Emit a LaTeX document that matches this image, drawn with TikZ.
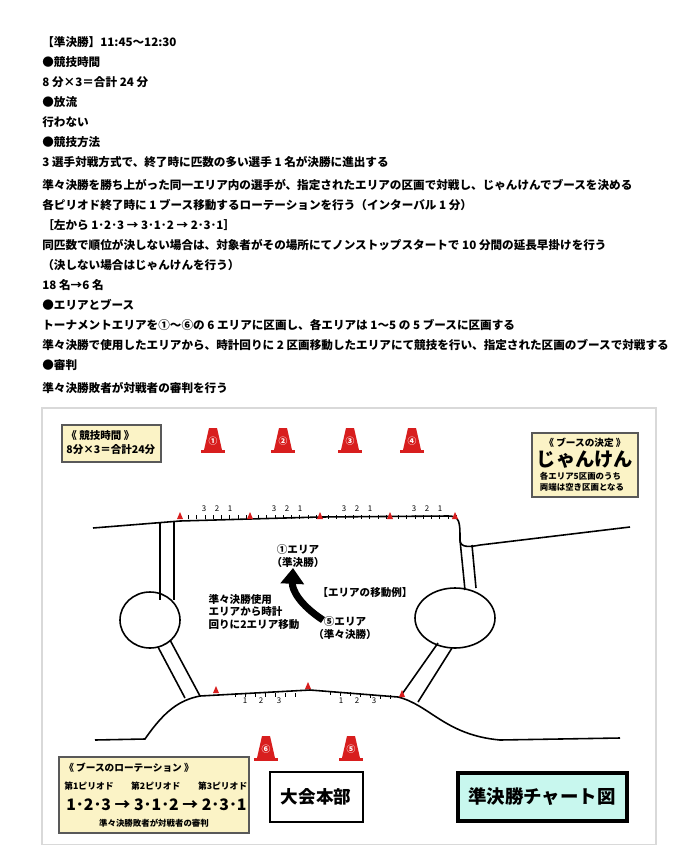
\documentclass[tikz,border=0pt]{standalone}
\usepackage{fontspec}
\setmainfont{Noto Sans CJK JP}
\usetikzlibrary{arrows.meta}
\definecolor{memo}{HTML}{FBF3C6}
\definecolor{chart}{HTML}{C8F7EE}
\definecolor{cone}{HTML}{D81E1E}
\tikzset{
  line/.style={anchor=west,inner sep=0pt,font=\fontsize{6.6}{8}\selectfont\bfseries},
  memobox/.style={draw=gray!70!black,fill=memo,line width=0.8pt},
  road/.style={line width=0.9pt},
  tick/.style={font=\fontsize{4.5}{5}\selectfont,inner sep=0pt}
}
\newcommand{\cone}[3]{%
  \fill[cone] (#1-9,#2+10) -- (#1-4,#2-12) -- (#1+4,#2-12) -- (#1+9,#2+10) -- cycle;
  \fill[cone] (#1-12,#2+10) rectangle (#1+12,#2+13);
  \node[text=white,font=\fontsize{5}{5}\selectfont\bfseries,inner sep=0pt] at (#1,#2+1) {#3};}
\newcommand{\flag}[2]{\fill[cone] (#1-3,#2) -- (#1,#2-7) -- (#1+3,#2) -- cycle;}
\begin{document}
\begin{tikzpicture}[x=0.02cm,y=-0.02cm]
\useasboundingbox (0,0) rectangle (680,845);
\fill[white] (0,0) rectangle (680,845);
% text
\node[line] at (42,42) {【準決勝】11:45～12:30};
\node[line] at (42,62) {●競技時間};
\node[line] at (42,82) {8 分×3＝合計 24 分};
\node[line] at (42,102) {●放流};
\node[line] at (42,122) {行わない};
\node[line] at (42,142) {●競技方法};
\node[line] at (42,162) {3 選手対戦方式で、終了時に匹数の多い選手 1 名が決勝に進出する};
\node[line] at (42,185) {準々決勝を勝ち上がった同一エリア内の選手が、指定されたエリアの区画で対戦し、じゃんけんでブースを決める};
\node[line] at (42,205) {各ピリオド終了時に 1 ブース移動するローテーションを行う（インターバル 1 分）};
\node[line] at (42,225) {［左から 1･2･3 → 3･1･2 → 2･3･1］};
\node[line] at (42,245) {同匹数で順位が決しない場合は、対象者がその場所にてノンストップスタートで 10 分間の延長早掛けを行う};
\node[line] at (42,265) {（決しない場合はじゃんけんを行う）};
\node[line] at (42,285) {18 名→6 名};
\node[line] at (42,305) {●エリアとブース};
\node[line] at (42,325) {トーナメントエリアを①～⑥の 6 エリアに区画し、各エリアは 1～5 の 5 ブースに区画する};
\node[line] at (42,345) {準々決勝で使用したエリアから、時計回りに 2 区画移動したエリアにて競技を行い、指定された区画のブースで対戦する};
\node[line] at (42,365) {●審判};
\node[line] at (42,388) {準々決勝敗者が対戦者の審判を行う};
% frame
\draw[gray!30,line width=1pt] (42,408) rectangle (656,845);
% roads
\draw[road] (93,528) -- (180,521) -- (320,517) -- (448,516) .. controls (460,516) and (460,522) .. (460,540) .. controls (460,548) and (470,547) .. (480,545) -- (630,527);
\draw[road] (160,522) -- (160,600) (174,521) -- (174,600);
\draw[road] (150,620) circle [x radius=30,y radius=28];
\draw[road] (170,640) -- (200,696) (158,647) -- (185,698);
\draw[road] (460,540) -- (465,590) (472,545) -- (476,588);
\draw[road] (455,618) circle [x radius=40,y radius=30];
\draw[road] (438,643) -- (400,697) (452,648) -- (418,702);
\draw[road] (95,740) -- (145,739) .. controls (165,710) and (180,700) .. (200,696) -- (310,690) -- (398,697) .. controls (430,705) and (445,735) .. (500,740) -- (620,738);
% ticks top
\foreach \s in {180,250,320,390}{
  \foreach \k in {1,...,8}{\draw (\s+\k*8.3,519-\k*0.05) -- ++(0,-4);}
  \node[tick] at (\s+24,509) {3}; \node[tick] at (\s+37,509) {2}; \node[tick] at (\s+50,509) {1};}
\foreach \x in {180,250,320,390,455}{\flag{\x}{519}}
% ticks bottom
\foreach \k in {0,...,6}{\draw (235+\k*10,693) -- ++(0,4); \draw (330+\k*10,691+\k*0.7) -- ++(0,4);}
\foreach \x/\t in {245/1,261/2,279/3,341/1,357/2,374/3}{\node[tick] at (\x,701) {\t};}
\flag{216}{693}\flag{308}{689}\flag{402}{697}
% cones
\cone{213}{440}{①}\cone{283}{440}{②}\cone{350}{440}{③}\cone{412}{440}{④}
\cone{266}{748}{⑥}\cone{351}{748}{⑤}
% boxes
\draw[memobox] (62,425) rectangle (161,462);
\node[line,font=\fontsize{6}{8}\selectfont\bfseries,align=left,anchor=north west] at (66,430) {《 競技時間 》\\8分×3＝合計24分};
\draw[memobox] (532,433) rectangle (638,497);
\node[font=\fontsize{5.5}{6}\selectfont\bfseries,inner sep=0pt] (boothttl) at (585,443) {《 ブースの決定 》};
\node[font=\fontsize{11}{12}\selectfont\bfseries,inner sep=0pt,anchor=north] (jk) at (585,450) {じゃんけん};
\node[font=\fontsize{4.8}{6}\selectfont\bfseries,align=left,inner sep=0pt] at (582,482) {各エリア5区画のうち\\両端は空き区画となる};
\draw[memobox] (59,757) rectangle (249,833);
\node[line,font=\fontsize{5.5}{6}\selectfont\bfseries] at (64,768) {《 ブースのローテーション 》};
\node[line,font=\fontsize{5}{6}\selectfont\bfseries] at (64,786) {第1ピリオド\hspace{2em}第2ピリオド\hspace{2em}第3ピリオド};
\node[line,font=\fontsize{9}{10}\selectfont\bfseries] at (66,805) {1･2･3 → 3･1･2 → 2･3･1};
\node[font=\fontsize{4.8}{6}\selectfont\bfseries,inner sep=0pt] at (154,823) {準々決勝敗者が対戦者の審判};
\draw[line width=0.9pt] (270,772) rectangle (363,822);
\node[font=\fontsize{10}{12}\selectfont\bfseries,inner sep=0pt] at (316,797) {大会本部};
\draw[line width=2.5pt,fill=chart] (458,773) rectangle (627,821);
\node[font=\fontsize{10.5}{12}\selectfont\bfseries,inner sep=0pt] at (542,797) {準決勝チャート図};
% area move example
\node[font=\fontsize{6}{7}\selectfont\bfseries,align=center,inner sep=0pt] (a1) at (298,556) {①エリア\\（準決勝）};
\node[font=\fontsize{6}{7}\selectfont\bfseries,inner sep=0pt] at (365,593) {【エリアの移動例】};
\node[font=\fontsize{6}{7}\selectfont\bfseries,align=center,inner sep=0pt] (a5) at (345,628) {⑤エリア\\（準々決勝）};
\node[font=\fontsize{6}{7}\selectfont\bfseries,align=left,inner sep=0pt] at (254,612) {準々決勝使用\\エリアから時計\\回りに2エリア移動};
\draw[line width=4pt,-{Triangle[length=9pt,width=13pt]}] (323,620) .. controls (300,605) and (292,590) .. (293,568);
\end{tikzpicture}
\end{document}
